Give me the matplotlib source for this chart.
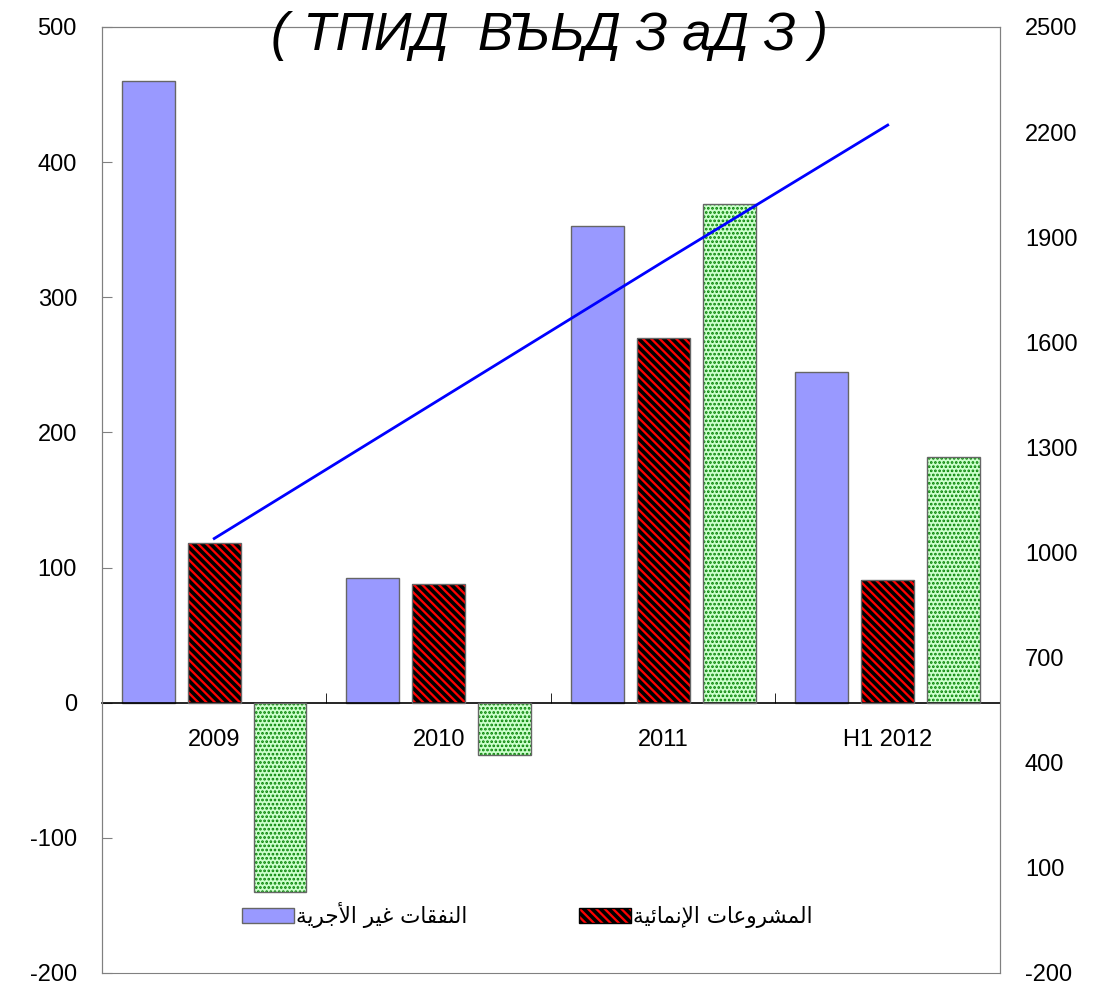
import matplotlib.pyplot as plt
import numpy as np

CATEGORIES = ["2009", "2010", "2011", "H1 2012"]
NON_WAGE = [460, 92, 353, 245]
DEVELOPMENT = [118, 88, 270, 91]
BALANCE = [-140, -39, 369, 182]
TOTAL = [1040, 1435, 1830, 2220]

LABEL_NON_WAGE = "النفقات غير الأجرية"
LABEL_DEVELOPMENT = "المشروعات الإنمائية"
TITLE = "( ТПИД  ВЪЬД З аД З )"

# Arabic presentation forms: isolated, final, initial, medial
FORMS = {
    "ا": (0xFE8D, 0xFE8E, None, None),
    "أ": (0xFE83, 0xFE84, None, None),
    "إ": (0xFE87, 0xFE88, None, None),
    "ئ": (0xFE89, 0xFE8A, 0xFE8B, 0xFE8C),
    "ة": (0xFE93, 0xFE94, None, None),
    "ت": (0xFE95, 0xFE96, 0xFE97, 0xFE98),
    "ج": (0xFE9D, 0xFE9E, 0xFE9F, 0xFEA0),
    "ر": (0xFEAD, 0xFEAE, None, None),
    "ش": (0xFEB5, 0xFEB6, 0xFEB7, 0xFEB8),
    "ع": (0xFEC9, 0xFECA, 0xFECB, 0xFECC),
    "غ": (0xFECD, 0xFECE, 0xFECF, 0xFED0),
    "ف": (0xFED1, 0xFED2, 0xFED3, 0xFED4),
    "ق": (0xFED5, 0xFED6, 0xFED7, 0xFED8),
    "ل": (0xFEDD, 0xFEDE, 0xFEDF, 0xFEE0),
    "م": (0xFEE1, 0xFEE2, 0xFEE3, 0xFEE4),
    "ن": (0xFEE5, 0xFEE6, 0xFEE7, 0xFEE8),
    "و": (0xFEED, 0xFEEE, None, None),
    "ي": (0xFEF1, 0xFEF2, 0xFEF3, 0xFEF4),
}
LAM_ALEF = {"ا": (0xFEFB, 0xFEFC), "أ": (0xFEF7, 0xFEF8), "إ": (0xFEF9, 0xFEFA)}


def shape_arabic(text):
    out = []
    i = 0
    while i < len(text):
        ch = text[i]
        if ch not in FORMS:
            out.append(ch)
            i += 1
            continue
        prev = text[i - 1] if i > 0 else ""
        joins_prev = prev in FORMS and FORMS[prev][2] is not None
        if ch == "ل" and i + 1 < len(text) and text[i + 1] in LAM_ALEF:
            iso, fin = LAM_ALEF[text[i + 1]]
            out.append(chr(fin if joins_prev else iso))
            i += 2
            continue
        nxt = text[i + 1] if i + 1 < len(text) else ""
        iso, fin, ini, med = FORMS[ch]
        joins_next = ini is not None and nxt in FORMS
        if joins_prev and joins_next:
            code = med
        elif joins_prev:
            code = fin
        elif joins_next:
            code = ini
        else:
            code = iso
        out.append(chr(code))
        i += 1
    return "".join(out)[::-1]


plt.rcParams["font.family"] = ["Liberation Sans", "DejaVu Sans"]
plt.rcParams["axes.unicode_minus"] = False
plt.rcParams["hatch.linewidth"] = 2.6

fig = plt.figure(figsize=(10.93, 9.84), dpi=100)
ax = fig.add_axes([0.0933, 0.0112, 0.8216, 0.9614])
ax2 = ax.twinx()

x = np.arange(len(CATEGORIES))
w = 0.236
off = 0.293
edge = "#666666"
red_hatch = "\\" * 4

ax.bar(x - off, NON_WAGE, w, color="#9999ff", edgecolor=edge, linewidth=1, zorder=2)
# hatched bars: pattern first, then the outline on top
ax.bar(x, DEVELOPMENT, w, color="#ff0000", edgecolor="black", hatch=red_hatch, linewidth=0, zorder=2)
ax.bar(x, DEVELOPMENT, w, fill=False, edgecolor=edge, linewidth=1, zorder=3)
with plt.rc_context({"hatch.linewidth": 1.3}):
    dots = ax.bar(x + off, BALANCE, w, color="#ccffcc", edgecolor="#008000", hatch="....", linewidth=0, zorder=2)
for p in dots:
    if hasattr(p, "set_hatch_linewidth"):
        p.set_hatch_linewidth(1.3)
ax.bar(x + off, BALANCE, w, fill=False, edgecolor=edge, linewidth=1, zorder=3)

ax2.plot(x, TOTAL, color="#0000ff", linewidth=2)

ax.set_xlim(-0.5, 3.5)
ax.set_ylim(-200, 500)
ax.set_yticks(range(-200, 501, 100))
ax2.set_ylim(-200, 2500)
ax2.set_yticks(range(-200, 2501, 300))

frame = "#808080"
for s in ["left", "right", "top"]:
    ax.spines[s].set_color(frame)
    ax2.spines[s].set_color(frame)
ax2.spines["bottom"].set_color(frame)
ax.spines["bottom"].set_position(("data", 0))
ax.spines["bottom"].set_color("black")
ax.spines["bottom"].set_linewidth(1.2)

ax.set_xticks(x)
ax.set_xticklabels(CATEGORIES)
ax.set_xticks([0.5, 1.5, 2.5], minor=True)
ax.tick_params(axis="x", which="major", length=0, pad=19, labelsize=17)
ax.tick_params(axis="x", which="minor", direction="in", length=7, color="black")
ax.tick_params(axis="y", direction="in", length=7, color=frame, pad=18, labelsize=17)
ax2.tick_params(axis="y", length=0, pad=18, labelsize=17)

handles = [
    plt.Rectangle((0, 0), 1, 1, facecolor="#9999ff", edgecolor=edge),
    plt.Rectangle((0, 0), 1, 1, facecolor="#ff0000", edgecolor="black", hatch=red_hatch),
]
ax.legend(
    handles,
    [shape_arabic(LABEL_NON_WAGE), shape_arabic(LABEL_DEVELOPMENT)],
    loc="center left",
    bbox_to_anchor=(242 / 1093, 1 - 915 / 984),
    bbox_transform=fig.transFigure,
    ncol=2,
    frameon=False,
    borderpad=0,
    borderaxespad=0,
    handlelength=2.4,
    handleheight=0.7,
    handletextpad=0.1,
    columnspacing=5.2,
    prop={"family": "DejaVu Sans", "size": 15.5},
)

fig.text(0.503, 1 - 36 / 984, TITLE, ha="center", va="center",
         fontsize=38, fontstyle="italic")

fig.savefig("out.png", dpi=100)
